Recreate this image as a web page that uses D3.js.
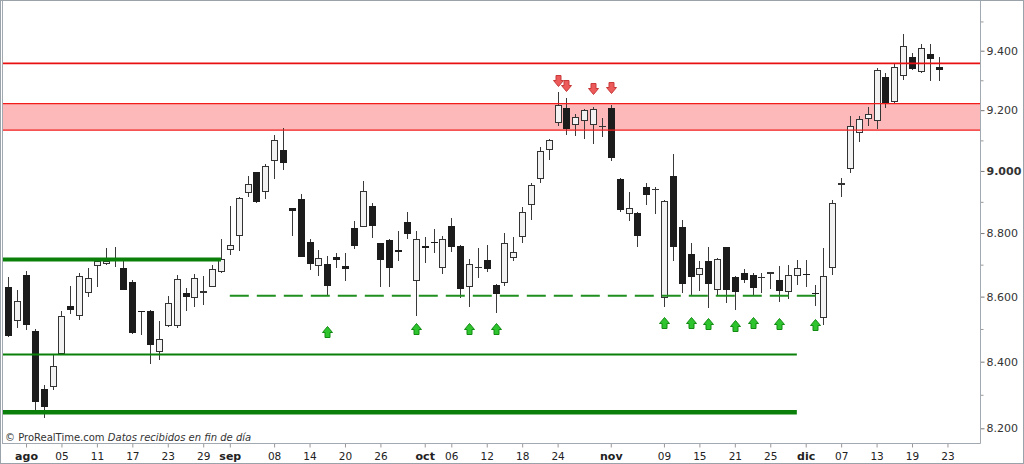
<!DOCTYPE html>
<html><head><meta charset="utf-8">
<script src="https://cdn.jsdelivr.net/npm/d3@7"></script>
<style>body{margin:0;background:#fff}svg{display:block}</style>
</head><body><svg id="c" width="1024" height="464"></svg>
<script>
// ---- data (daily candles, 28 jul 2022 .. 22 dic 2022) ----
const openP  = [8631,8525,8668,8495,8318,8323,8422,8572,8540,8610,8697,8703,8718,8689,8647,8555,8556,8430,8510,8510,
8611,8595,8610,8631,8678,8746,8790,8930,8995,8932,9031,9067,8879,8910,8772,8697,8702,8724,8696,8817,
8819,8887,8767,8778,8745,8835,8650,8760,8771,8691,8821,8760,8629,8690,8715,8637,8642,8721,8786,8891,
8975,9067,9157,9208,9151,9163,9152,9145,9208,8974,8862,8864,8949,8938,8595,8985,8820,8735,8667,8713,
8622,8756,8660,8673,8667,8660,8670,8652,8614,8663,8672,8610,8533,8691,8953,9006,9123,9172,9163,9311,
9227,9314,9380,9329,9388,9344];
const highP  = [8661,8621,8681,8499,8330,8420,8554,8634,8675,8691,8718,8751,8755,8710,8652,8556,8558,8523,8603,8668,
8628,8671,8663,8700,8781,8887,8915,8984,8997,9023,9118,9140,8881,8925,8782,8745,8728,8738,8736,8839,
8968,8896,8769,8780,8806,8867,8807,8789,8813,8791,8848,8762,8717,8752,8763,8640,8801,8789,8882,8960,
9079,9104,9259,9240,9186,9203,9209,9173,9217,8977,8932,8866,8962,8949,8905,9055,8842,8767,8710,8755,
8720,8757,8663,8686,8673,8675,8678,8697,8699,8715,8714,8637,8752,8907,8976,9182,9182,9212,9343,9324,
9355,9457,9391,9423,9423,9378];
const lowP   = [8475,8504,8497,8255,8230,8315,8420,8546,8528,8598,8629,8700,8694,8620,8486,8480,8392,8405,8506,8504,
8556,8567,8574,8630,8675,8731,8744,8915,8896,8909,8975,9003,8791,8723,8684,8663,8605,8688,8650,8749,
8818,8784,8629,8631,8713,8780,8541,8706,8738,8671,8741,8597,8567,8658,8677,8549,8633,8713,8770,8842,
8960,9036,9146,9118,9113,9104,9087,9110,9034,8866,8839,8755,8891,8861,8569,8710,8612,8605,8619,8564,
8605,8579,8557,8642,8605,8612,8624,8584,8592,8636,8631,8572,8513,8668,8915,8993,9094,9148,9137,9208,
9224,9302,9336,9324,9299,9298];
const closeP = [8477,8586,8513,8277,8262,8386,8539,8560,8665,8658,8712,8713,8716,8621,8487,8553,8451,8469,8581,8655,
8600,8659,8617,8687,8717,8763,8911,8956,8899,9016,9102,9025,8870,8724,8703,8721,8632,8715,8686,8759,
8936,8823,8714,8688,8740,8796,8780,8751,8769,8780,8757,8625,8702,8692,8686,8607,8770,8741,8867,8955,
9066,9102,9217,9139,9177,9201,9203,9147,9043,8875,8881,8792,8922,8940,8903,8757,8639,8660,8688,8639,
8718,8621,8614,8651,8628,8662,8677,8619,8667,8689,8670,8608,8665,8896,8962,9146,9172,9187,9335,9223,
9344,9416,9337,9410,9373,9333];

// trading days on the axis (weekdays)
const axisDays = d3.timeDays(new Date(2022,6,28), new Date(2022,11,24)).filter(d => d.getDay() !== 0 && d.getDay() !== 6);
const tickDays  = ["08-01","08-05","08-11","08-17","08-23","08-29","09-01","09-08","09-14","09-20","09-26","10-03","10-06",
                   "10-12","10-18","10-24","11-01","11-09","11-15","11-21","11-25","12-01","12-07","12-13","12-19","12-23"];
const tickTexts = ["ago","05","11","17","23","29","sep","08","14","20","26","oct","06",
                   "12","18","24","nov","09","15","21","25","dic","07","13","19","23"];
const monthTicks = ["ago","sep","oct","nov","dic"];

const priceTicks = [8200,8400,8600,8800,9000,9200,9400];
const minorTicks = [8300,8500,8700,8900,9100,9300,9500];

// horizontal levels
const redLines   = [9357];
const redZone    = [9134, 9222];
const greenSolid = [ {v:8716, from:"07-28", to:"08-31", w:4},
                     {v:8422, from:"07-28", to:"11-30", w:2},
                     {v:8248, from:"07-28", to:"11-30", w:4.5} ];
const greenDash  = {v:8603, from:"09-01", to:"12-05"};

// signals
const buyIdx   = [36,46,52,55,74,77,79,82,84,87,91];
const buyLevel = [8510,8519,8519,8519,8537,8537,8534,8528,8537,8534,8531];
const sellIdx   = [62,63,66,68];
const sellLevel = [9282,9265,9253,9257];

// ---- drawing ----
const svg = d3.select("#c");
const W = 1024, H = 464;
const plotL = 2, plotR = 980, plotT = 1, plotB = 443;

const idxOf = s => { const [m,d] = s.split("-").map(Number);
  return axisDays.findIndex(t => t.getMonth()===m-1 && t.getDate()===d); };

const x = d3.scaleLinear().domain([0,105]).range([8.3, 938.6]);
const y = d3.scaleLog().domain([8200,9400]).range([428.3,50.7]);

svg.append("rect").attr("width",W).attr("height",H).attr("fill","#fff");

const clip = svg.append("clipPath").attr("id","pc").append("rect")
  .attr("x",plotL).attr("y",plotT).attr("width",plotR-plotL).attr("height",plotB-plotT);
const g = svg.append("g").attr("clip-path","url(#pc)");

// red zone fill
g.append("rect").attr("x",plotL).attr("width",plotR-plotL)
  .attr("y",y(redZone[1])).attr("height",y(redZone[0])-y(redZone[1]))
  .attr("fill","#fdb9b9");

// candles
const candles = g.append("g").attr("shape-rendering","crispEdges");
d3.range(openP.length).forEach(i => {
  const cx = Math.round(x(i));
  const left = cx - 3;
  const yH = Math.round(y(highP[i])), yL = Math.round(y(lowP[i]));
  candles.append("rect").attr("x",cx).attr("width",1).attr("y",yH).attr("height",Math.max(1,yL-yH)).attr("fill","#3a3a3a");
  const t = Math.round(y(Math.max(openP[i],closeP[i])));
  const b = Math.round(y(Math.min(openP[i],closeP[i])));
  const h = Math.max(1,b-t);
  const up = closeP[i] > openP[i];
  candles.append("rect").attr("x",left).attr("width",7).attr("y",t).attr("height",h)
    .attr("fill", up ? "#333" : "#1c1c1c");
  if (up && h > 2) {
    candles.append("rect").attr("x",left+1).attr("width",5).attr("y",t+1).attr("height",h-2).attr("fill","#f2f2f2");
  }
});

// red lines
g.append("line").attr("x1",plotL).attr("x2",plotR).attr("y1",y(redZone[1])).attr("y2",y(redZone[1]))
  .attr("stroke","#f21c1c").attr("stroke-width",1.3);
g.append("line").attr("x1",plotL).attr("x2",plotR).attr("y1",y(redZone[0])).attr("y2",y(redZone[0]))
  .attr("stroke","#f21c1c").attr("stroke-width",1.3);
redLines.forEach(v => g.append("line").attr("x1",plotL).attr("x2",plotR).attr("y1",y(v)).attr("y2",y(v))
  .attr("stroke","#e81010").attr("stroke-width",1.6));

// green lines
greenSolid.forEach(l => {
  const x1 = idxOf(l.from) === 0 ? plotL : x(idxOf(l.from));
  g.append("line").attr("x1",x1).attr("x2",x(idxOf(l.to))).attr("y1",y(l.v)).attr("y2",y(l.v))
    .attr("stroke","#0a800a").attr("stroke-width",l.w);
});
g.append("line").attr("x1",x(idxOf(greenDash.from))).attr("x2",x(idxOf(greenDash.to)))
  .attr("y1",y(greenDash.v)).attr("y2",y(greenDash.v))
  .attr("stroke","#1f8f1f").attr("stroke-width",2).attr("stroke-dasharray","19,8");

// arrows
const upArrow = (cx,t) => `M${cx},${t} L${cx+5},${t+6} L${cx+2.5},${t+6} L${cx+2.5},${t+11} L${cx-2.5},${t+11} L${cx-2.5},${t+6} L${cx-5},${t+6} Z`;
const downArrow = (cx,b) => `M${cx},${b} L${cx+5},${b-6} L${cx+2.5},${b-6} L${cx+2.5},${b-11} L${cx-2.5},${b-11} L${cx-2.5},${b-6} L${cx-5},${b-6} Z`;
buyIdx.forEach((k,j) => g.append("path").attr("d",upArrow(Math.round(x(k))+0.5, Math.round(y(buyLevel[j]))+0.5))
  .attr("fill","#2ec42e").attr("stroke","#138a13").attr("stroke-width",1));
sellIdx.forEach((k,j) => g.append("path").attr("d",downArrow(Math.round(x(k))+0.5, Math.round(y(sellLevel[j]))+0.5))
  .attr("fill","#ec5a5a").attr("stroke","#c83a3a").attr("stroke-width",1));

// footer text
const ft = svg.append("text").attr("x",5).attr("y",441).attr("font-family","DejaVu Sans, Verdana, sans-serif")
  .attr("font-size",10).attr("fill","#333");
ft.append("tspan").text("© ProRealTime.com ");
ft.append("tspan").attr("font-style","italic").text("Datos recibidos en fin de día");

// right axis
const fmt = d3.formatLocale({decimal:",", thousands:".", grouping:[3], currency:["","€"]}).format(",d");
const ra = svg.append("g").attr("transform",`translate(${plotR+0.5},0)`)
  .call(d3.axisRight(y).tickValues(priceTicks).tickSize(4).tickPadding(2).tickFormat(fmt));
ra.select(".domain").remove();
ra.selectAll("line").attr("stroke","#777");
ra.selectAll("text").attr("font-family","DejaVu Sans, Verdana, sans-serif").attr("font-size",11).attr("fill","#333")
  .attr("font-weight", d => d === 9000 ? "bold" : "normal");
const rm = svg.append("g").attr("transform",`translate(${plotR+0.5},0)`)
  .call(d3.axisRight(y).tickValues(minorTicks).tickSize(3).tickFormat(""));
rm.select(".domain").remove();
rm.selectAll("line").attr("stroke","#999");

// bottom axis
const tickIdx = tickDays.map(idxOf);
const ba = svg.append("g").attr("transform",`translate(0,${plotB+0.5})`)
  .call(d3.axisBottom(x).tickValues(tickIdx).tickSize(4).tickPadding(5).tickFormat((d,i) => tickTexts[i]));
ba.select(".domain").remove();
ba.selectAll("line").attr("stroke","#999");
ba.selectAll("text").attr("font-family","DejaVu Sans, Verdana, sans-serif").attr("fill","#222")
  .attr("font-size", (d,i) => monthTicks.includes(tickTexts[i]) ? 11 : 10.5)
  .attr("font-weight", (d,i) => monthTicks.includes(tickTexts[i]) ? "bold" : "normal");

// frames
svg.append("line").attr("x1",plotL).attr("x2",plotR+0.5).attr("y1",plotB+0.5).attr("y2",plotB+0.5).attr("stroke","#a3a9b0");
svg.append("line").attr("x1",plotR+0.5).attr("x2",plotR+0.5).attr("y1",plotT).attr("y2",plotB+0.5).attr("stroke","#a3a9b0");
svg.append("line").attr("x1",plotL+0.5).attr("x2",plotL+0.5).attr("y1",plotT).attr("y2",plotB).attr("stroke","#a3a9b0");
svg.append("rect").attr("x",0.5).attr("y",0.5).attr("width",W-1).attr("height",H-1)
  .attr("fill","none").attr("stroke","#9aa2aa");
</script></body></html>
